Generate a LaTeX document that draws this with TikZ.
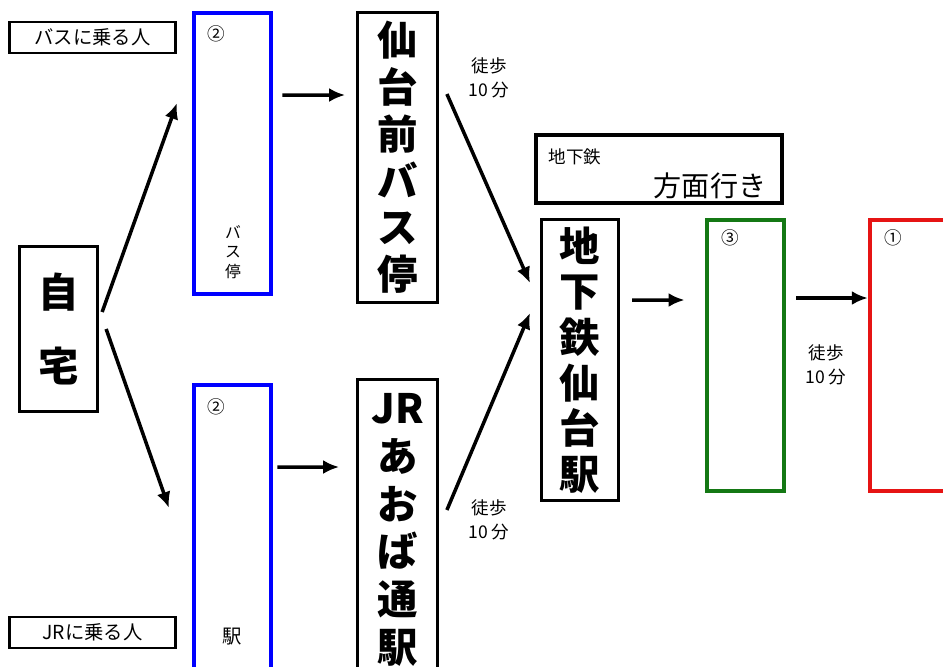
\documentclass[tikz,border=0pt]{standalone}
\usepackage{fontspec}
\newfontfamily\jp{Noto Sans CJK JP}
\usetikzlibrary{arrows.meta}
\definecolor{stopgreen}{RGB}{20,120,20}
\definecolor{stopred}{RGB}{230,20,20}

\begin{document}
\begin{tikzpicture}[x=0.02cm, y=-0.02cm,
  name node/.style={shape=rectangle,draw=black,line width=1.6pt,inner sep=0,align=center,font=\jp\bfseries\fontsize{23}{26.6}\selectfont},
  tag node/.style={shape=rectangle,draw=black,line width=1.5pt,inner sep=0,minimum width=3.32cm,minimum height=0.62cm,font=\jp\fontsize{11}{13}\selectfont},
  stop node/.style={shape=rectangle,draw=#1,line width=2.5pt,inner sep=0,minimum width=1.55cm},
  small node/.style={inner sep=0,align=center,font=\jp\fontsize{10}{11}\selectfont},
  walk node/.style={inner sep=0,align=center,font=\jp\fontsize{10}{14}\selectfont},
  arr/.style={line width=2pt,-{Latex[length=3.2mm,width=2.8mm]}},
  ]
		\clip (0,0) rectangle (943,666);
		% people / home
		\node[tag node] (bustag) at (92.5,37.5){バスに乗る人};
		\node[tag node] (jrtag) at (92.5,632.5){JRに乗る人};
		\node[name node,minimum width=1.57cm,minimum height=3.31cm,font=\jp\bfseries\fontsize{23}{42.5}\selectfont] (jitaku) at (58.5,329){自\\宅};
		% first stops (blue)
		\node[stop node=blue,minimum height=5.61cm] (busstop) at (232.5,153.5){};
		\node[stop node=blue,minimum height=6.3cm] (jrstop) at (232.5,542.5){};
		\node[small node] (n2a) at (216,34){②};
		\node[small node] (n2b) at (216,407){②};
		\node[small node,font=\jp\fontsize{9}{11}\selectfont] (teilbl) at (233,252){バ\\ス\\停};
		\node[small node,font=\jp\fontsize{11}{13}\selectfont] (ekilbl) at (232,637){駅};
		% stations
		\node[name node,minimum width=1.6cm,minimum height=5.8cm] (sendaimae) at (397.5,157.5){仙\\台\\前\\バ\\ス\\停};
		\node[name node,minimum width=1.6cm,minimum height=6.02cm,font=\jp\bfseries\fontsize{23}{27.2}\selectfont] (aoba) at (397.5,530){JR\\あ\\お\\ば\\通\\駅};
		\node[name node,minimum width=1.55cm,minimum height=5.63cm,font=\jp\bfseries\fontsize{23}{26}\selectfont] (subway) at (580,360){地\\下\\鉄\\仙\\台\\駅};
		\node[shape=rectangle,draw=black,line width=2.3pt,minimum width=4.92cm,minimum height=1.36cm] (dirbox) at (659,169){};
		\node[small node] (dirlbl) at (575,157){地下鉄};
		\node[inner sep=0,font=\jp\fontsize{16}{18}\selectfont] (dirtxt) at (710,186){方面行き};
		% later stops
		\node[stop node=stopgreen,minimum height=5.41cm] (third) at (745.5,355.5){};
		\node[stop node=stopred,minimum width=1.6cm,minimum height=5.41cm] (first) at (910,355.5){};
		\node[small node] (n3) at (730,238){③};
		\node[small node] (n1) at (893,238){①};
		% walking times
		\node[walk node] (walk1) at (489,78){徒歩\\10 分};
		\node[walk node] (walk2) at (489,520){徒歩\\10 分};
		\node[walk node] (walk3) at (826,365){徒歩\\10 分};
		
		\coordinate (h1) at (177,103);
		\coordinate (h2) at (169,508);
		\coordinate (h3) at (530,283);
		\coordinate (h4) at (530,313);
		\draw[arr] ([xshift=0.06cm,yshift=0.34cm]jitaku.east) -- (h1);
		\draw[arr] ([xshift=0.14cm]jitaku.east) -- (h2);
		\draw[arr,shorten <=0.18cm,shorten >=0.22cm] ([yshift=1.17cm]busstop.east) -- ([yshift=1.25cm]sendaimae.west);
		\draw[arr,shorten <=0.08cm,shorten >=0.34cm] ([yshift=1.51cm]jrstop.east) -- ([yshift=1.26cm]aoba.west);
		\draw[arr] ([xshift=0.16cm,yshift=1.27cm]sendaimae.east) -- (h3);
		\draw[arr] ([xshift=0.16cm,yshift=0.4cm]aoba.east) -- (h4);
		\draw[arr,shorten <=0.24cm,shorten >=0.4cm] ([yshift=1.2cm]subway.east) -- ([yshift=1.11cm]third.west);
		\draw[arr,shorten <=0.2cm] ([yshift=1.15cm]third.east) -- ([yshift=1.15cm]first.west);
		
\end{tikzpicture}
\end{document}
